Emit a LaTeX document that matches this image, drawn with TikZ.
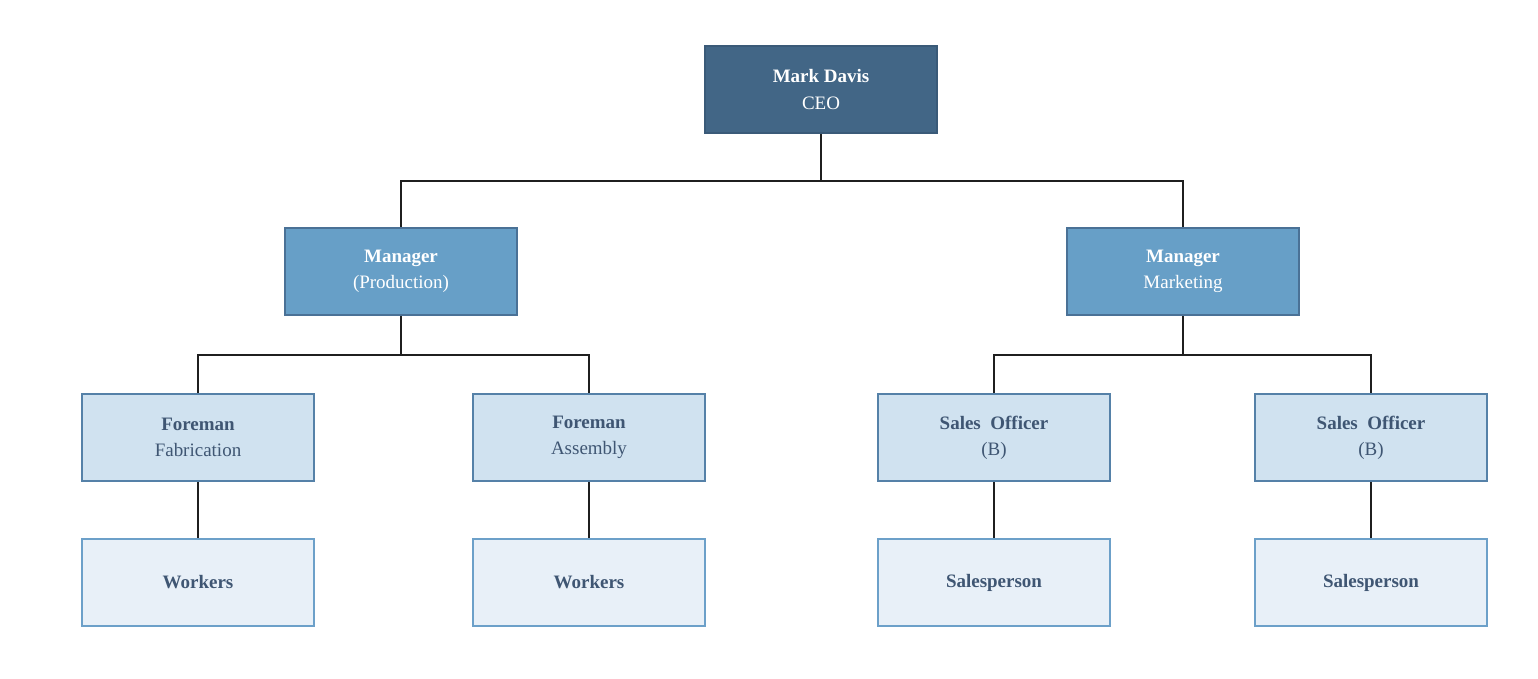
\documentclass[tikz,border=0pt]{standalone}
\usepackage{fontspec}
\setmainfont{Liberation Serif}
\usetikzlibrary{positioning}

\definecolor{ceofill}{HTML}{426686}
\definecolor{ceoline}{HTML}{3A5A78}
\definecolor{mgrfill}{HTML}{679FC7}
\definecolor{mgrline}{HTML}{4A7196}
\definecolor{forefill}{HTML}{D0E2F0}
\definecolor{foreline}{HTML}{5581A8}
\definecolor{wrkfill}{HTML}{E8F0F8}
\definecolor{wrkline}{HTML}{6CA0C9}
\definecolor{darktext}{HTML}{3F5673}

\tikzset{
  box/.style={rectangle, draw, line width=1.4pt, minimum width=5.8cm, minimum height=2.175cm,
    align=center, font=\fontsize{13.5}{18.5}\selectfont},
  ceobox/.style={box, fill=ceofill, draw=ceoline, text=white},
  mgrbox/.style={box, fill=mgrfill, draw=mgrline, text=white},
  forebox/.style={box, fill=forefill, draw=foreline, text=darktext},
  wrkbox/.style={box, fill=wrkfill, draw=wrkline, text=darktext},
  link/.style={line width=1.8pt, draw=black!88}
}

\begin{document}
\begin{tikzpicture}[x=0.025cm, y=-0.025cm]
      % Variables
      \def \rowa {89.5}
      \def \rowb {271.5}
      \def \rowc {437.5}
      \def \rowd {582.5}

      \useasboundingbox (0,0) rectangle (1538,678);

      % Boxes
      \node[ceobox] (ceo) at (821,\rowa) {\textbf{Mark Davis}\\CEO};

      \node[mgrbox] (prod) at (401,\rowb) {\textbf{Manager}\\(Production)};
      \node[mgrbox] (mkt) at (1183,\rowb) {\textbf{Manager}\\Marketing};

      \node[forebox] (fab) at (198,\rowc) {\textbf{Foreman}\\Fabrication};
      \node[forebox] (asm) at (589,\rowc) {\textbf{Foreman}\\Assembly};
      \node[forebox] (soa) at (994,\rowc) {\textbf{Sales\ \ Officer}\\(B)};
      \node[forebox] (sob) at (1371,\rowc) {\textbf{Sales\ \ Officer}\\(B)};

      \node[wrkbox] (wfab) at (198,\rowd) {\textbf{Workers}};
      \node[wrkbox] (wasm) at (589,\rowd) {\textbf{Workers}};
      \node[wrkbox] (spa) at (994,\rowd) {\textbf{Salesperson}};
      \node[wrkbox] (spb) at (1371,\rowd) {\textbf{Salesperson}};

      % Connectors
      \draw[link] (ceo.south) -- ++(0,47) coordinate (ceoj) -| (prod.north);
      \draw[link] (ceoj) -| (mkt.north);

      \draw[link] (prod.south) -- ++(0,39) coordinate (prodj) -| (fab.north);
      \draw[link] (prodj) -| (asm.north);

      \draw[link] (mkt.south) -- ++(0,39) coordinate (mktj) -| (soa.north);
      \draw[link] (mktj) -| (sob.north);

      \draw[link] (fab) -- (wfab);
      \draw[link] (asm) -- (wasm);
      \draw[link] (soa) -- (spa);
      \draw[link] (sob) -- (spb);

    \end{tikzpicture}
\end{document}
